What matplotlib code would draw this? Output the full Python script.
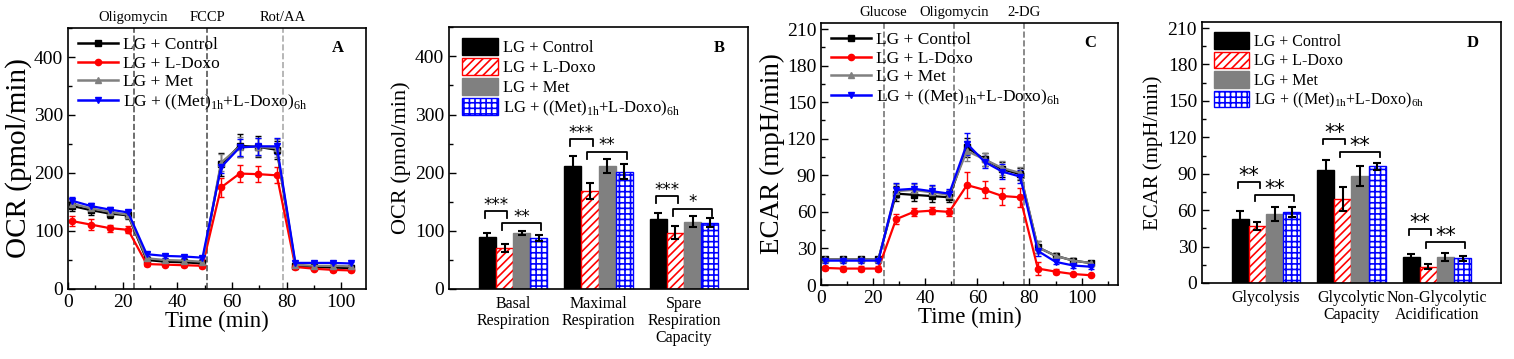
import matplotlib
matplotlib.use("Agg")
import matplotlib.pyplot as plt
import numpy as np
from matplotlib.ticker import MultipleLocator
from matplotlib.transforms import blended_transform_factory
from matplotlib.lines import Line2D

plt.rcParams['font.family'] = ['Liberation Serif', 'DejaVu Serif']
plt.rcParams['mathtext.fontset'] = 'custom'
plt.rcParams['mathtext.rm'] = 'Liberation Serif'
plt.rcParams['hatch.linewidth'] = 1.2

# ---------------- data ----------------
labels = ["LG + Control", "LG + L-Doxo", "LG + Met",
          r"LG + ((Met)$_{\mathrm{1h}}$+L-Doxo)$_{\mathrm{6h}}$"]
colors = ["black", "red", "gray", "blue"]
markers = ["s", "o", "^", "v"]

time = [1.6, 8.4, 15.2, 22.0, 28.8, 35.6, 42.4, 49.2,
        56.0, 62.8, 69.6, 76.4, 83.2, 90.0, 96.8, 103.6]

ocr_control = [143, 136, 130, 127, 50, 47, 46, 44, 215, 247, 245, 240, 40, 38, 37, 36]
ocr_ldoxo = [117, 111, 105, 102, 43, 42, 41, 40, 175, 199, 198, 196, 38, 35, 33, 32]
ocr_met = [147, 139, 133, 128, 53, 50, 49, 47, 218, 245, 245, 243, 42, 40, 40, 39]
ocr_combo = [152, 143, 137, 132, 60, 57, 56, 54, 210, 244, 246, 246, 45, 45, 45, 44]
ocr_control_err = [9, 9, 8, 7, 4, 4, 4, 4, 20, 20, 18, 16, 4, 4, 4, 4]
ocr_ldoxo_err = [8, 9, 6, 6, 3, 3, 3, 3, 17, 14, 14, 14, 3, 3, 3, 3]
ocr_met_err = [6, 6, 6, 5, 3, 3, 3, 3, 15, 17, 16, 16, 3, 3, 3, 3]
ocr_combo_err = [6, 6, 5, 5, 3, 3, 3, 3, 10, 15, 15, 14, 3, 3, 3, 3]
ocr_injections = [24, 51, 78.6]
ocr_injection_labels = ["Oligomycin", "FCCP", "Rot/AA"]

ecar_control = [21, 21, 21, 21, 75, 74, 73, 72, 113, 103, 95, 91, 31, 24, 20, 18]
ecar_ldoxo = [14, 13.5, 13.5, 13.5, 54, 60, 61, 60, 82, 78, 73, 72, 13.5, 11, 9, 8]
ecar_met = [21, 21, 21, 21, 77, 78, 76, 74, 110, 103, 96, 92, 31, 24, 20, 18]
ecar_combo = [20, 20, 20, 20, 78, 79, 77, 75, 116, 101, 93, 89, 28, 19, 16, 15]
ecar_control_err = [2, 2, 2, 2, 6, 5, 5, 4, 8, 5, 6, 5, 5, 2, 2, 2]
ecar_ldoxo_err = [2, 2, 2, 2, 4, 3, 3, 3, 11, 7, 7, 8, 5, 2, 1, 1]
ecar_met_err = [2, 2, 2, 2, 6, 5, 5, 4, 8, 5, 6, 5, 5, 2, 2, 2]
ecar_combo_err = [2, 2, 2, 2, 6, 5, 5, 4, 9, 5, 6, 5, 4, 2, 2, 2]
ecar_injections = [24, 51, 77.8]
ecar_injection_labels = ["Glucose", "Oligomycin", "2-DG"]

ocr_categories = ["Basal\nRespiration", "Maximal\nRespiration", "Spare\nRespiration\nCapacity"]
ocr_bar_values = [[90, 211, 121], [70, 168, 97], [96, 211, 116], [88, 202, 114]]
ocr_bar_err = [[6, 17, 10], [7, 14, 11], [4, 12, 9], [5, 13, 8]]
ocr_sig = ["***", "**", "***", "**", "***", "*"]

ecar_categories = ["Glycolysis", "Glycolytic\nCapacity", "Non-Glycolytic\nAcidification"]
ecar_bar_values = [[53, 93, 21.5], [47, 69, 13.5], [57, 88, 21.5], [58.5, 96, 20.5]]
ecar_bar_err = [[6, 8, 2], [3, 10, 2], [6, 8, 3], [4, 3, 2]]
ecar_sig = ["**", "**", "**", "**", "**", "**"]

# ---------------- figure ----------------
fig = plt.figure(figsize=(15.14, 3.59), dpi=100)
axA = fig.add_axes([0.0449, 0.195, 0.1968, 0.727])
axB = fig.add_axes([0.2966, 0.195, 0.1975, 0.729])
axC = fig.add_axes([0.5423, 0.2061, 0.1962, 0.7298])
axD = fig.add_axes([0.7939, 0.2117, 0.1975, 0.727])

tick_fs = 14


def style_axes(ax):
    ax.tick_params(which='both', direction='in', labelsize=tick_fs)
    ax.tick_params(which='major', length=5, width=1)
    ax.tick_params(which='minor', length=3, width=1)
    for s in ax.spines.values():
        s.set_linewidth(1.2)


def line_panel(ax, series, errs, injections, inj_labels, ylim, ymajor, xlim,
               ylabel, ylabel_fs, letter, inj_colors):
    handles = []
    for vals, err, c, m, lab in zip(series, errs, colors, markers, labels):
        ax.errorbar(time, vals, yerr=err, color=c, marker=m, markersize=4.5,
                    lw=1.6, capsize=2, elinewidth=1)
        handles.append(Line2D([], [], color=c, marker=m, markersize=4.5, lw=1.8, label=lab))
    for xv, txt, ic in zip(injections, inj_labels, inj_colors):
        ax.axvline(xv, color=ic, ls='--', lw=1.2, zorder=0)
        ax.text(xv, 1.042, txt, transform=blended_transform_factory(ax.transData, ax.transAxes),
                ha='center', va='center', fontsize=10.5)
    ax.set_xlim(*xlim)
    ax.set_ylim(*ylim)
    ax.xaxis.set_major_locator(MultipleLocator(20))
    ax.xaxis.set_minor_locator(MultipleLocator(10))
    ax.yaxis.set_major_locator(MultipleLocator(ymajor))
    ax.yaxis.set_minor_locator(MultipleLocator(ymajor / 2))
    style_axes(ax)
    ax.set_xlabel("Time (min)", fontsize=16.5, labelpad=0)
    ax.set_ylabel(ylabel, fontsize=ylabel_fs, labelpad=1)
    ax.text(0.905, 0.923, letter, transform=ax.transAxes, fontsize=12,
            fontweight='bold', ha='center', va='center')
    ax.legend(handles=handles, loc='upper left', bbox_to_anchor=(0.005, 1.0), frameon=False,
              fontsize=12.5, handlelength=2.3, labelspacing=0.15,
              handletextpad=0.3, borderaxespad=0.3, borderpad=0.2)


line_panel(axA, [ocr_control, ocr_ldoxo, ocr_met, ocr_combo],
           [ocr_control_err, ocr_ldoxo_err, ocr_met_err, ocr_combo_err],
           ocr_injections, ocr_injection_labels, (0, 450), 100, (0, 109),
           "OCR (pmol/min)", 21, "A", ["#555555", "#555555", "#aaaaaa"])
line_panel(axC, [ecar_control, ecar_ldoxo, ecar_met, ecar_combo],
           [ecar_control_err, ecar_ldoxo_err, ecar_met_err, ecar_combo_err],
           ecar_injections, ecar_injection_labels, (0, 215), 30, (0, 114),
           "ECAR (mpH/min)", 19.5, "C", ["#777777", "#777777", "#777777"])

bar_faces = ["black", "white", "gray", "white"]
bar_edges = ["black", "red", "gray", "blue"]
bar_hatches = [None, "////", None, "+++"]


def bar_panel(ax, cats, values, errs, sig, ylim, ymajor, ylabel, ylabel_fs, letter,
              star_fs, star_pad, gap13, gap01, drop, leg_fs):
    x = np.arange(1, len(cats) + 1)
    w = 0.2
    centers = []
    for i in range(4):
        pos = x + (i - 1.5) * w
        centers.append(pos)
        ax.bar(pos, values[i], width=w, color=bar_faces[i], edgecolor=bar_edges[i],
               hatch=bar_hatches[i], linewidth=1.0, label=labels[i], zorder=2)
        ax.errorbar(pos, values[i], yerr=errs[i], fmt='none', ecolor='black',
                    elinewidth=1.5, capsize=3, capthick=1.5, zorder=3)
    ax.set_xlim(0.25, 3.75)
    ax.set_ylim(*ylim)
    ax.yaxis.set_major_locator(MultipleLocator(ymajor))
    ax.yaxis.set_minor_locator(MultipleLocator(ymajor / 2))
    style_axes(ax)
    ax.set_xticks(x)
    ax.set_xticklabels(cats, linespacing=1.1)
    ax.tick_params(axis='x', which='both', length=0, pad=5, labelsize=11.5)
    ax.set_ylabel(ylabel, fontsize=ylabel_fs, labelpad=3)
    ax.text(0.905, 0.92, letter, transform=ax.transAxes, fontsize=12,
            fontweight='bold', ha='center', va='center')
    # significance brackets
    span = ylim[1]
    k = 0
    for g in range(len(cats)):
        tops = [values[j][g] + errs[j][g] for j in range(4)]
        y13 = max(tops[1:4]) + gap13 * span
        y01 = max(max(tops[0:2]) + 0.06 * span, y13 + gap01 * span)
        for (a, b), yb in [((0, 1), y01), ((1, 3), y13)]:
            xa, xb = centers[a][g] - 0.03, centers[b][g] + 0.03
            ax.plot([xa, xa, xb, xb], [yb - drop * span, yb, yb, yb - drop * span],
                    color='black', lw=1.3, zorder=4)
            ax.text((xa + xb) / 2, yb + star_pad * span, sig[k], ha='center',
                    va='baseline', fontsize=star_fs, family='DejaVu Sans')
            k += 1
    ax.legend(loc='upper left', bbox_to_anchor=(0.02, 0.985), frameon=False,
              fontsize=leg_fs, handlelength=2.2, handleheight=1.2, labelspacing=0.12,
              handletextpad=0.3, borderaxespad=0.2, borderpad=0.2)


bar_panel(axB, ocr_categories, ocr_bar_values, ocr_bar_err, ocr_sig, (0, 450), 100,
          "OCR (pmol/min)", 16, "B", 12, 0.005, 0.029, 0.047, 0.026, 12)
bar_panel(axD, ecar_categories, ecar_bar_values, ecar_bar_err, ecar_sig, (0, 215), 30,
          "ECAR (mpH/min)", 15, "D", 15, 0.0, 0.043, 0.05, 0.022, 11.5)

fig.savefig("out.png", dpi=100)
